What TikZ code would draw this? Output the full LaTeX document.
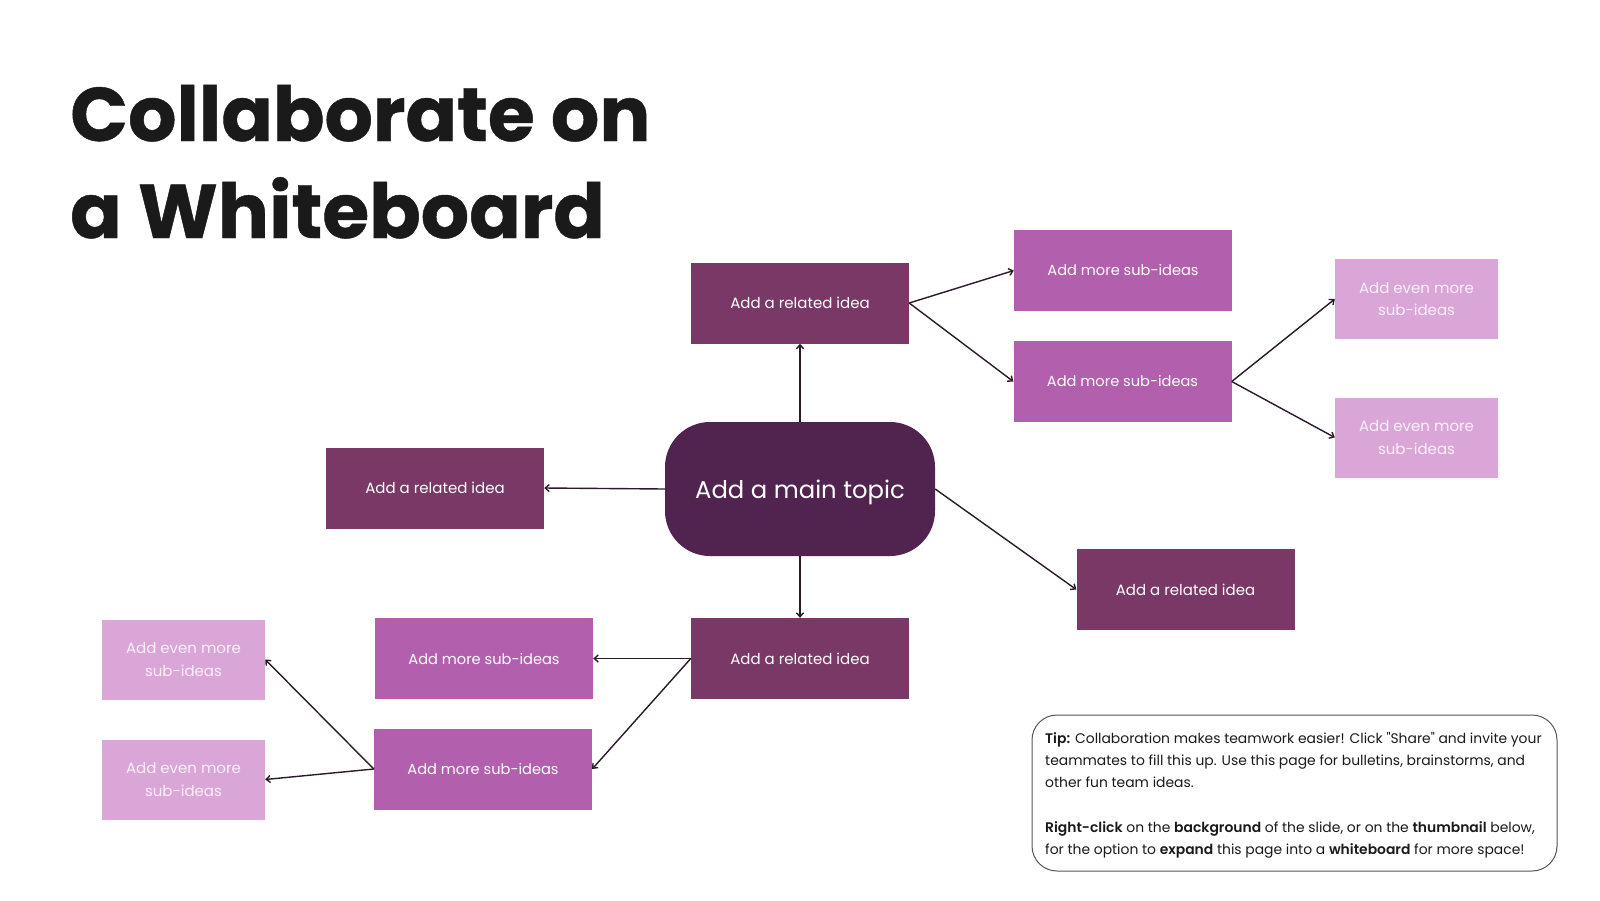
\documentclass[tikz,border=0pt]{standalone}
\usepackage{fontspec}
\setmainfont{Poppins}[Ligatures=TeXOff]
\newfontfamily\tipfont{Poppins}[Ligatures=TeXOff, BoldFont={Poppins SemiBold}]
\usetikzlibrary{arrows.meta}
\definecolor{relatedc}{HTML}{793866}
\definecolor{mainc}{HTML}{51244F}
\definecolor{subc}{HTML}{B25FAE}
\definecolor{evenc}{HTML}{D9A6D7}
\definecolor{eventext}{HTML}{FBF0FA}
\definecolor{linec}{HTML}{2B1A2B}
\definecolor{inkc}{HTML}{1A1A1A}
\definecolor{tipline}{HTML}{555555}
\tikzset{
  ideabox/.style={rectangle, inner sep=0pt, text=white, align=center,
    font=\fontsize{15}{22.5}\selectfont},
  relatedbox/.style={ideabox, fill=relatedc, minimum width=218pt, minimum height=81pt},
  subbox/.style={ideabox, fill=subc, minimum width=218pt, minimum height=81pt,
    font=\fontsize{14.6}{22}\selectfont},
  evenbox/.style={ideabox, fill=evenc, text=eventext, minimum width=163pt, minimum height=80pt},
  mainbox/.style={rectangle, rounded corners=45pt, fill=mainc, inner sep=0pt,
    minimum width=270pt, minimum height=134pt},
  maintext/.style={inner sep=0pt, text=white, font=\fontsize{24.3}{30}\selectfont},
  conn/.style={draw=linec, line width=1.4pt, -{Straight Barb[length=4pt,width=7pt]}},
  titletext/.style={anchor=base west, inner sep=0pt, text=inkc,
    font=\fontsize{76}{90}\selectfont\bfseries\addfontfeature{FakeBold=0.6}},
}
\begin{document}
\begin{tikzpicture}[x=1pt,y=-1pt]
\fill[white] (0,0) rectangle (1600,900);
\useasboundingbox (0,0) rectangle (1600,900);

\node[titletext] (t1) at (70,141) {Collaborate on};
\node[titletext] (t2) at (70,238) {a Whiteboard};

\node[mainbox] (m) at (800,489) {};
\node[maintext] (mt) at (800,492.5) {Add a main topic};

\node[relatedbox] (tr) at (800,303) {Add a related idea};
\node[relatedbox] (lr) at (435,488) {Add a related idea};
\node[relatedbox] (br) at (800,658.5) {Add a related idea};
\node[relatedbox] (rr) at (1185.5,589.5) {Add a related idea};

\node[subbox] (s1) at (1123,270.5) {Add more sub-ideas};
\node[subbox] (s2) at (1122.5,381.5) {Add more sub-ideas};
\node[evenbox] (e1) at (1416.5,299) {Add even more\\sub-ideas};
\node[evenbox] (e2) at (1416.5,437.5) {Add even more\\sub-ideas};

\node[subbox] (bs1) at (484,658.5) {Add more sub-ideas};
\node[subbox] (bs2) at (483,769) {Add more sub-ideas};
\node[evenbox] (be1) at (183.5,659.5) {Add even more\\sub-ideas};
\node[evenbox] (be2) at (183.5,779.5) {Add even more\\sub-ideas};

\draw[conn] (m.north) -- (tr.south);
\draw[conn] (m.west) -- (lr.east);
\draw[conn] (m.south) -- (br.north);
\draw[conn] (m.east) -- (rr.west);
\draw[conn] (tr.east) -- (s1.west);
\draw[conn] (tr.east) -- (s2.west);
\draw[conn] (s2.east) -- (e1.west);
\draw[conn] (s2.east) -- (e2.west);
\draw[conn] (br.west) -- (bs1.east);
\draw[conn] (br.west) -- (bs2.east);
\draw[conn] (bs2.west) -- (be1.east);
\draw[conn] (bs2.west) -- (be2.east);

\node[draw=tipline, line width=1pt, rounded corners=25pt, minimum width=525pt,
  minimum height=156pt, inner sep=0pt] (tip) at (1294.5,793) {};
\node[anchor=north west, inner sep=0pt, align=left, text=inkc,
  font=\tipfont\fontsize{13.9}{22.2}\selectfont] (tiptext) at (1045,732)
  {\textbf{Tip:} Collaboration makes teamwork easier! Click "Share" and invite your\\
   teammates to fill this up. Use this page for bulletins, brainstorms, and\\
   other fun team ideas.\\[22.2pt]
   \textbf{Right-click} on the \textbf{background} of the slide, or on the \textbf{thumbnail} below,\\
   for the option to \textbf{expand} this page into a \textbf{whiteboard} for more space!};
\end{tikzpicture}
\end{document}
